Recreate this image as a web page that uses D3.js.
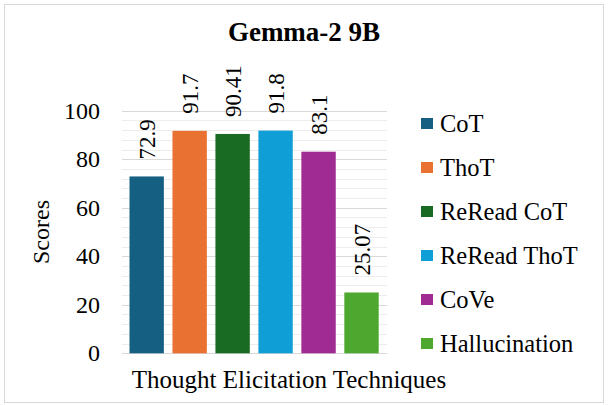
<!DOCTYPE html>
<html>
<head>
<meta charset="utf-8">
<script src="https://cdn.jsdelivr.net/npm/d3@7"></script>
</head>
<body style="margin:0">
<script>
// data
var techniques = ['CoT', 'ThoT', 'ReRead CoT', 'ReRead ThoT', 'CoVe', 'Hallucination'];
var scores = [72.9, 91.7, 90.41, 91.8, 83.1, 25.07];
var scoreLabels = ['72.9', '91.7', '90.41', '91.8', '83.1', '25.07'];
var colors = ['#156082', '#E97132', '#196B24', '#0F9ED5', '#A02B93', '#4EA72E'];
var yTicks = [0, 20, 40, 60, 80, 100];

var svgWidth = 608, svgHeight = 405;
var serif = 'Liberation Serif, Tinos, Times, FreeSerif';

var svg = d3.select('body').append('svg')
  .attr('width', svgWidth)
  .attr('height', svgHeight)
  .attr('font-family', serif);

// chart border
svg.append('rect')
  .attr('x', 4.5).attr('y', 4.5)
  .attr('width', 599).attr('height', 398)
  .attr('fill', '#fff')
  .attr('stroke', '#d9d9d9')
  .attr('stroke-width', 1);

var x = d3.scaleBand()
  .domain(techniques)
  .range([125.2, 383])
  .paddingInner(0.2)
  .paddingOuter(0.1);

var y = d3.scaleLinear()
  .domain([0, 100])
  .range([353.3, 110.7]);

var gridLeft = 122, gridRight = 387;

// minor gridlines every 4
svg.append('g')
  .selectAll('line')
  .data(d3.range(0, 101, 4).filter(function(d) { return d % 20 !== 0; }))
  .join('line')
  .attr('x1', gridLeft).attr('x2', gridRight)
  .attr('y1', function(d) { return Math.round(y(d)) + 0.5; })
  .attr('y2', function(d) { return Math.round(y(d)) + 0.5; })
  .attr('stroke', '#ededed')
  .attr('stroke-width', 1);

// major gridlines
svg.append('g')
  .selectAll('line')
  .data(yTicks)
  .join('line')
  .attr('x1', gridLeft).attr('x2', gridRight)
  .attr('y1', function(d) { return Math.round(y(d)) + 0.5; })
  .attr('y2', function(d) { return Math.round(y(d)) + 0.5; })
  .attr('stroke', '#d9d9d9')
  .attr('stroke-width', 1);

// y axis labels
var yAxis = svg.append('g')
  .attr('transform', 'translate(' + 100 + ',0)')
  .call(d3.axisLeft(y).tickValues(yTicks).tickSize(0).tickPadding(0));
yAxis.select('.domain').remove();
yAxis.attr('font-family', serif).attr('font-size', 24);
yAxis.selectAll('text')
  .attr('font-family', serif)
  .attr('fill', '#000');

// bars
svg.append('g')
  .selectAll('rect')
  .data(techniques)
  .join('rect')
  .attr('x', function(d) { return x(d); })
  .attr('y', function(d, i) { return y(scores[i]); })
  .attr('width', x.bandwidth())
  .attr('height', function(d, i) { return y(0) - y(scores[i]); })
  .attr('fill', function(d, i) { return colors[i]; });

// value labels, rotated
svg.append('g')
  .selectAll('text')
  .data(techniques)
  .join('text')
  .attr('transform', function(d, i) {
    return 'translate(' + (x(d) + x.bandwidth() / 2 + 8) + ',' + (y(scores[i]) - 17) + ') rotate(-90)';
  })
  .attr('text-anchor', 'start')
  .attr('font-family', serif)
  .attr('font-size', 23)
  .text(function(d, i) { return scoreLabels[i]; });

// title
svg.append('text')
  .attr('x', 304)
  .attr('y', 41)
  .attr('text-anchor', 'middle')
  .attr('font-family', serif)
  .attr('font-size', 27)
  .attr('font-weight', 'bold')
  .text('Gemma-2 9B');

// axis titles
svg.append('text')
  .attr('transform', 'translate(49,232) rotate(-90)')
  .attr('text-anchor', 'middle')
  .attr('font-family', serif)
  .attr('font-size', 24)
  .text('Scores');

svg.append('text')
  .attr('x', 289)
  .attr('y', 388)
  .attr('text-anchor', 'middle')
  .attr('font-family', serif)
  .attr('font-size', 25)
  .text('Thought Elicitation Techniques');

// legend
var legendY = d3.scalePoint()
  .domain(techniques)
  .range([123.5, 343.5]);

var legend = svg.append('g')
  .selectAll('g')
  .data(techniques)
  .join('g')
  .attr('transform', function(d) { return 'translate(421,' + legendY(d) + ')'; });

legend.append('rect')
  .attr('x', 0).attr('y', -5.5)
  .attr('width', 12).attr('height', 11)
  .attr('fill', function(d, i) { return colors[i]; });

legend.append('text')
  .attr('x', 19)
  .attr('y', 8)
  .attr('font-family', serif)
  .attr('font-size', 24.5)
  .text(function(d) { return d; });
</script>
</body>
</html>
